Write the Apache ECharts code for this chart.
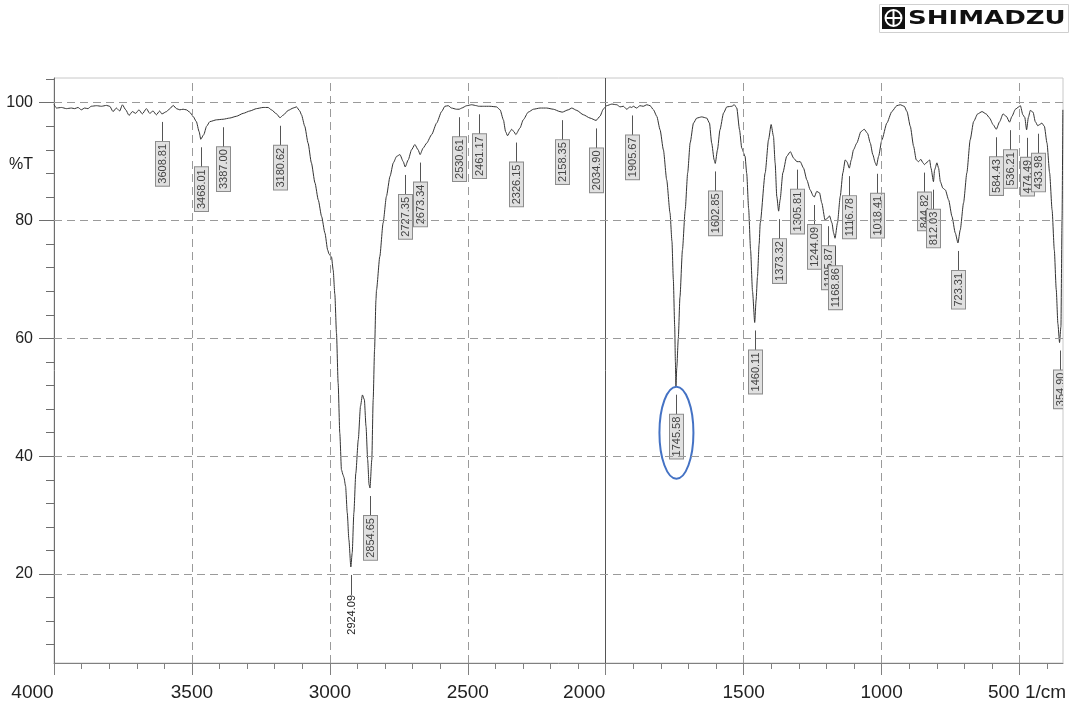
<!DOCTYPE html>
<html><head><meta charset="utf-8">
<script src="https://cdn.jsdelivr.net/npm/echarts@6/dist/echarts.min.js"></script>
<style>html,body{margin:0;padding:0;background:#fff}#c{width:1076px;height:709px}</style>
</head><body><div id="c"></div>
<script>
// Spectrum: wavenumber (1/cm) and transmittance (%T)
const WN = [4000,3991,3973,3955,3937,3925,3913,3901,3889,3877,3865,3846,3828,3810,3798,3786,3774,3762,3752,3740,3728,3716,3704,3692,3680,3665,3653,3641,3629,3617,3609,3592,3580,3568,3556,3544,3532,3520,3508,3496,3484,3474,3468,3457,3447,3435,3411,3387,3363,3339,3314,3290,3266,3242,3224,3212,3193,3181,3169,3151,3133,3121,3109,3103,3091,3079,3067,3054,3042,3030,3018,3008,3003,2994,2988,2982,2976,2970,2964,2958,2952,2949,2943,2937,2931,2924,2919,2913,2906,2897,2889,2882,2875,2869,2863,2858,2854.6,2848,2843,2838,2833,2831,2819,2807,2795,2782,2770,2758,2746,2734,2727,2716,2704,2692,2680,2673,2662,2649,2631,2613,2595,2583,2571,2559,2541,2531,2522,2504,2486,2468,2461,2444,2420,2396,2383,2371,2363,2356,2347,2341,2333,2326,2311,2299,2281,2262,2238,2214,2190,2166,2158,2136,2123,2105,2081,2057,2035,2021,2009,1997,1978,1960,1948,1936,1924,1912,1906,1900,1888,1876,1864,1851,1839,1827,1815,1803,1791,1779,1767,1760,1755,1750,1747.5,1745.6,1742.5,1737,1731,1722,1712,1703,1694,1682,1670,1652,1634,1624,1616,1607,1603,1595,1586,1573,1561,1543,1534,1525,1515,1507,1495,1489,1482,1475,1468,1460,1455,1450,1444,1440,1422,1410,1400.5,1392,1386,1380,1373.3,1368,1358,1344,1331,1319,1307,1295,1283,1271,1259,1247,1244,1235,1225,1217,1205,1196,1189,1180,1174,1168.9,1160,1150,1140.5,1132,1126,1117,1110,1102,1090,1075,1063,1051,1041,1032,1023,1018.4,1011,999,981,963,945,932.5,918,908,896,884,874.5,866,858,850,844.8,833,826,821,812,808,799.5,793.5,787,778,769,757,745,733,723.3,715,703,691,679,666.5,652,636,621,608.5,596,584.4,572,560,548,536.2,527.5,515,503,497,488,481,474.5,468,461,451,443,434,427,419,410,400.5,391,382,374,367,361,355,350,346,343];
const T = [99.7,99.1,99.2,99.0,99.1,99.0,99.2,98.8,99.1,99.0,99.4,99.5,99.4,99.55,99.4,98.5,99.1,98.6,99.65,98.8,97.85,98.5,98.2,98.8,98.1,99.0,98.2,98.6,97.95,98.6,98.1,98.5,99.0,99.55,99.0,98.8,98.9,98.8,98.4,97.7,96.8,95.1,93.8,94.6,96.0,96.8,97.1,97.2,97.4,97.7,98.2,98.6,99.0,99.2,99.2,98.8,98.1,97.45,97.9,98.7,99.1,99.3,98.6,97.96,96.0,93.15,89.8,86.4,83.5,80.7,77.9,75.0,74.3,73.8,71.6,67.5,60.9,52.4,43.9,37.7,36.8,36.4,34.9,30.4,25.8,21.2,23.6,30.4,37.1,42.8,48.5,50.4,49.6,45.1,39.4,35.2,34.6,39.4,49.6,58.1,66.5,68.2,73.9,79.6,84.1,87.5,89.8,90.9,91.2,90.0,89.1,90.3,92.0,92.9,92.0,91.2,92.3,93.15,94.6,96.55,98.5,99.4,99.5,99.1,98.9,98.9,99.1,99.5,99.66,99.5,99.4,99.4,99.4,99.3,98.8,97.1,95.1,94.4,95.1,95.5,95.1,94.6,95.7,97.1,98.4,98.9,99.1,99.1,98.9,98.5,98.4,98.8,99.1,98.7,97.96,97.4,97.0,97.7,98.9,99.5,99.77,99.66,99.3,99.4,98.9,99.3,99.2,99.4,99.1,99.5,99.4,99.66,99.5,98.8,97.7,95.4,92.0,86.9,81.3,76.5,70.0,62.0,56.0,51.8,55.0,60.0,67.0,75.0,81.8,88.1,93.2,96.55,97.4,97.6,97.4,96.55,93.15,90.3,89.7,92.0,95.4,98.25,99.3,99.4,99.66,99.1,95.4,92.3,90.9,88.0,82.0,75.0,68.0,62.7,66.5,70.5,76.0,79.6,88.1,93.7,96.3,94.3,89.8,84.1,81.6,83.5,88.1,90.9,91.7,90.6,90.0,90.0,88.9,86.9,85.2,84.1,84.0,84.95,84.7,83.0,80.1,80.4,80.8,79.6,77.9,77.0,79.6,84.1,88.1,90.3,90.0,88.9,90.3,92.0,93.15,95.1,95.5,94.8,93.15,91.2,89.8,89.3,90.9,93.7,96.55,98.5,99.5,99.66,99.4,98.5,96.0,92.6,90.3,90.0,90.4,89.8,89.5,90.0,90.3,88.9,86.6,88.6,89.8,88.9,86.6,85.5,85.2,83.5,80.7,77.9,76.2,78.4,83.0,88.1,93.7,96.8,98.1,98.5,98.1,97.4,96.3,95.5,96.8,98.1,97.7,96.7,97.7,98.9,99.3,99.5,97.96,97.5,95.4,97.5,98.7,98.4,96.8,96.1,96.3,96.55,96.0,93.15,88.1,81.8,75.0,68.3,62.5,59.3,62.0,80.0,98.8];

// Peak annotations
const PEAK_TEXT = ['3608.81','3468.01','3387.00','3180.62','2924.09','2854.65','2727.35','2673.34','2530.61','2461.17','2326.15','2158.35','2034.90','1905.67','1745.58','1602.85','1460.11','1373.32','1305.81','1244.09','1195.87','1168.86','1116.78','1018.41','844.82','812.03','723.31','584.43','536.21','474.49','433.98','354.90'];
const PEAK_WN = [3608.81,3468.01,3387.00,3180.62,2924.09,2854.65,2727.35,2673.34,2530.61,2461.17,2326.15,2158.35,2034.90,1905.67,1745.58,1602.85,1460.11,1373.32,1305.81,1244.09,1195.87,1168.86,1116.78,1018.41,844.82,812.03,723.31,584.43,536.21,474.49,433.98,354.90];
const PEAK_T = [98.1,93.8,97.2,97.45,21.2,34.6,89.1,91.2,98.9,99.4,94.6,98.4,97.0,99.2,51.8,89.7,62.7,81.6,90.0,84.0,80.4,77.0,88.9,89.3,89.5,86.6,76.2,95.5,96.7,95.4,96.1,59.3];
const PLAIN_LABELS = ['2924.09'];
const HIGHLIGHT_WN = [1745.58];
const HIGHLIGHT_T = [51.8];

// Axes
const X_LABELS = [4000,3500,3000,2500,2000,1500,1000,500];
const X_MINOR = [3900,3800,3700,3600,3400,3300,3200,3100,2900,2800,2700,2600,2400,2300,2200,2100,1900,1800,1700,1600,1400,1300,1200,1100,900,800,700,600,400];
const Y_LABELS = [20,40,60,80,100];
const Y_MINOR = [8,12,16,24,28,32,36,44,48,52,56,64,68,72,76,84,88,92,96,104];
const X_GRID_DASHED = [3500,3000,2500,1500,1000,500];
const X_GRID_SOLID = [2000];
const Y_GRID = [20,40,60,80,100];
const X_RANGE = [342.5, 4000];
const Y_RANGE = [4.9, 104.2];

const FONT = '"Liberation Sans", Arial, sans-serif';
const chart = echarts.init(document.getElementById('c'), null, {renderer: 'canvas'});

function renderPeak(params, api) {
  const i = params.dataIndex;
  const p = api.coord([api.value(0), api.value(1)]);
  const x = Math.round(p[0]) + 0.5;
  const y0 = p[1] + 8, y1 = p[1] + 28;
  const txt = PEAK_TEXT[i];
  const plain = PLAIN_LABELS.indexOf(txt) >= 0;
  const style = {
    text: txt, font: '11px ' + FONT, fill: plain ? '#222' : '#444',
    align: 'right', verticalAlign: 'middle', lineHeight: 11
  };
  if (!plain) {
    style.backgroundColor = '#e0e0e0';
    style.borderColor = '#8c8c8c';
    style.borderWidth = 1;
    style.padding = [1, 2, 1, 2];
  }
  return {
    type: 'group',
    children: [
      {type: 'line', shape: {x1: x, y1: y0, x2: x, y2: y1}, style: {stroke: '#555', lineWidth: 1}},
      {type: 'text', x: x, y: y1, rotation: Math.PI / 2, style: style}
    ]
  };
}

function renderHighlight(params, api) {
  const p = api.coord([api.value(0), api.value(1)]);
  return {
    type: 'ellipse',
    shape: {cx: p[0] + 0.5, cy: p[1] + 46, rx: 17, ry: 46},
    style: {fill: 'none', stroke: '#4472C4', lineWidth: 2}
  };
}

const gridLines = []
  .concat(X_GRID_DASHED.map(v => ({xAxis: v, lineStyle: {type: [8, 5], color: '#9a9a9a', width: 1}})))
  .concat(X_GRID_SOLID.map(v => ({xAxis: v, lineStyle: {type: 'solid', color: '#555', width: 1}})))
  .concat(Y_GRID.map(v => ({yAxis: v, lineStyle: {type: [8, 5], color: '#9a9a9a', width: 1}})));

const option = {
  animation: false,
  backgroundColor: '#fff',
  grid: {left: 54, right: 13, top: 78, bottom: 46, show: true, borderColor: '#c8c8c8', borderWidth: 1, containLabel: false, outerBoundsMode: 'none'},
  xAxis: [{
    type: 'value', inverse: true, min: X_RANGE[0], max: X_RANGE[1],
    axisLine: {show: true, onZero: false, lineStyle: {color: '#808080', width: 1}},
    axisTick: {show: true, customValues: X_LABELS, length: 12, lineStyle: {color: '#808080'}},
    axisLabel: {
      customValues: X_LABELS, margin: 20, fontSize: 19, color: '#222', fontFamily: FONT,
      formatter: function (v) {
        if (v === 4000 || v === 2000) return '{r|' + v + '}';
        if (v === 500) return '{f|500}{u| 1/cm}';
        return '{c|' + v + '}';
      },
      rich: {
        r: {fontSize: 19, fontFamily: FONT, color: '#222', padding: [0, 43, 0, 0]},
        c: {fontSize: 19, fontFamily: FONT, color: '#222'},
        f: {fontSize: 19, fontFamily: FONT, color: '#222', padding: [0, 0, 0, 15]},
        u: {fontSize: 19, fontFamily: FONT, color: '#222'}
      }
    },
    splitLine: {show: false}
  }, {
    type: 'value', inverse: true, min: X_RANGE[0], max: X_RANGE[1], position: 'bottom',
    axisLine: {show: false, onZero: false},
    axisTick: {show: true, customValues: X_MINOR, length: 6, lineStyle: {color: '#808080'}},
    axisLabel: {show: false}, splitLine: {show: false}
  }],
  yAxis: [{
    type: 'value', min: Y_RANGE[0], max: Y_RANGE[1],
    axisLine: {show: true, onZero: false, lineStyle: {color: '#6e6e6e', width: 1}},
    axisTick: {show: true, customValues: Y_LABELS, length: 15, lineStyle: {color: '#6e6e6e'}},
    axisLabel: {customValues: Y_LABELS, margin: 21, fontSize: 16, color: '#222', fontFamily: FONT},
    splitLine: {show: false}
  }, {
    type: 'value', min: Y_RANGE[0], max: Y_RANGE[1], position: 'left',
    axisLine: {show: false, onZero: false},
    axisTick: {show: true, customValues: Y_MINOR, length: 8, lineStyle: {color: '#6e6e6e'}},
    axisLabel: {show: false}, splitLine: {show: false}
  }],
  graphic: [
    {type: 'text', x: 33, y: 165, style: {text: '%T', font: '16px ' + FONT, fill: '#222', align: 'right', verticalAlign: 'middle'}},
    {type: 'rect', shape: {x: 879.5, y: 4.5, width: 189, height: 28}, style: {fill: '#fff', stroke: '#cfcfcf', lineWidth: 1}},
    {type: 'rect', shape: {x: 882, y: 7, width: 23, height: 22}, style: {fill: '#111'}},
    {type: 'circle', shape: {cx: 893.5, cy: 18, r: 8}, style: {fill: 'none', stroke: '#fff', lineWidth: 2}},
    {type: 'line', shape: {x1: 893.5, y1: 10, x2: 893.5, y2: 26}, style: {stroke: '#fff', lineWidth: 2}},
    {type: 'line', shape: {x1: 885.5, y1: 18, x2: 901.5, y2: 18}, style: {stroke: '#fff', lineWidth: 2}},
    {type: 'text', x: 908, y: 18.5, scaleX: 1.3, style: {text: 'SHIMADZU', font: 'bold 20px "DejaVu Sans"', fill: '#111', verticalAlign: 'middle'}}
  ],
  series: [
    {
      type: 'line', data: [], z: 1, silent: true,
      markLine: {silent: true, symbol: ['none', 'none'], label: {show: false}, animation: false, data: gridLines}
    },
    {
      type: 'line', z: 2, silent: true, showSymbol: false, smooth: 0.2, smoothMonotone: 'x',
      lineStyle: {color: '#333', width: 1},
      data: WN.map((w, i) => [w, T[i]])
    },
    {
      type: 'custom', z: 3, silent: true, clip: true, renderItem: renderPeak,
      encode: {x: 0, y: 1},
      data: PEAK_WN.map((w, i) => [w, PEAK_T[i]])
    },
    {
      type: 'custom', z: 4, silent: true, renderItem: renderHighlight,
      encode: {x: 0, y: 1},
      data: HIGHLIGHT_WN.map((w, i) => [w, HIGHLIGHT_T[i]])
    }
  ]
};
chart.setOption(option);
</script>
</body></html>
